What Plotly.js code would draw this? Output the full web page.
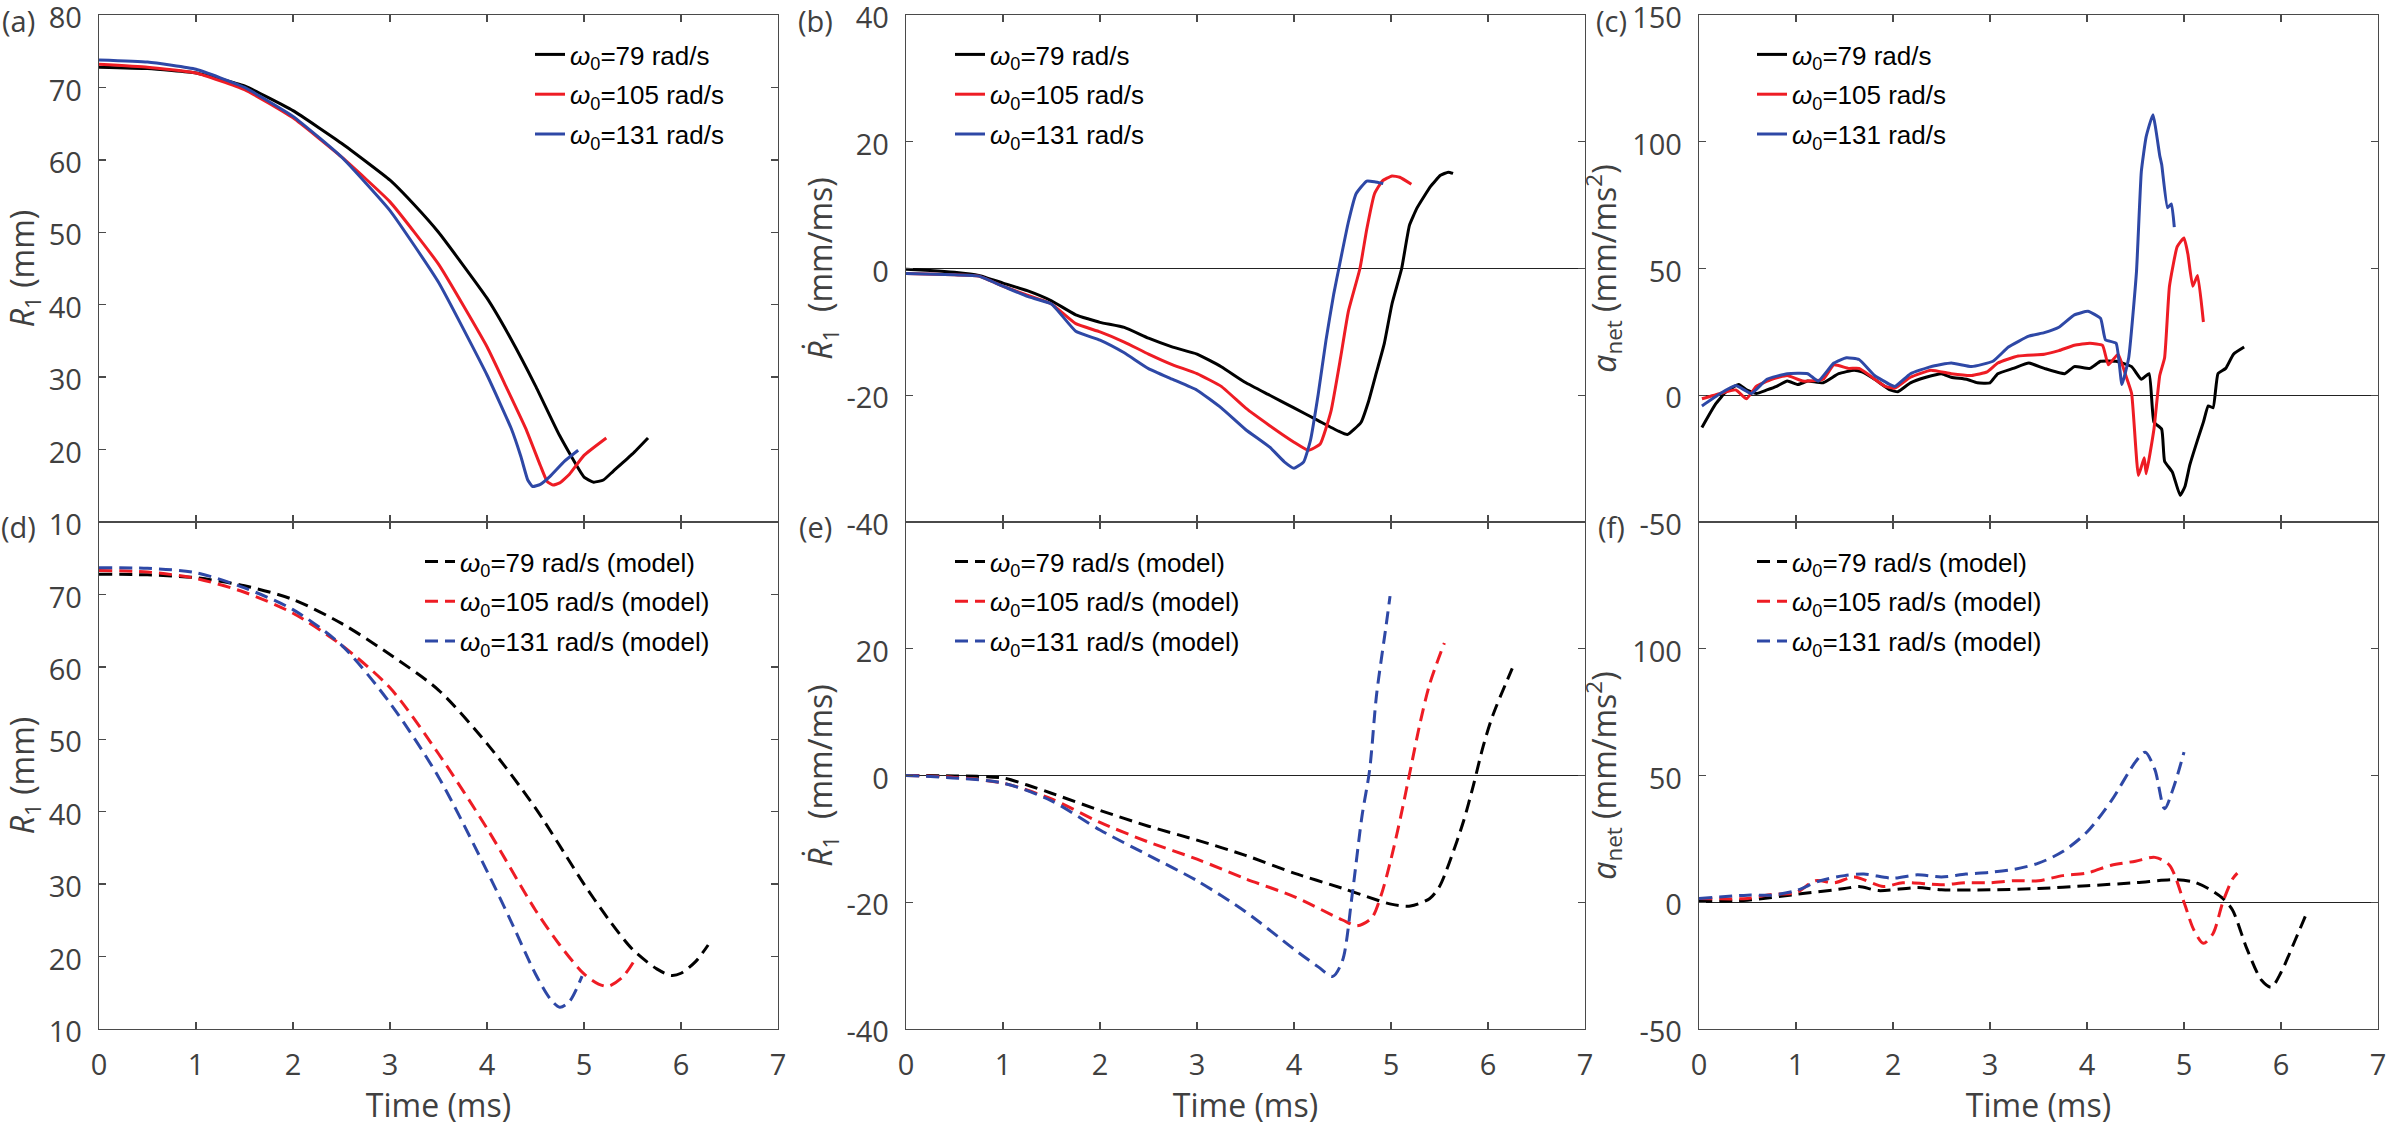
<!DOCTYPE html>
<html>
<head>
<meta charset="utf-8">
<script src="https://cdn.plot.ly/plotly-3.0.1.min.js"></script>
<style>html,body{margin:0;padding:0;background:#fff;}#chart{width:2388px;height:1132px;}</style>
</head>
<body>
<div id="chart"></div>
<script>
// ---------- DATA ----------
const omegaLabels = ['<i>ω</i><sub>0</sub>=79 rad/s', '<i>ω</i><sub>0</sub>=105 rad/s', '<i>ω</i><sub>0</sub>=131 rad/s'];
const modelSuffix = ' (model)';
const xTicks = [0, 1, 2, 3, 4, 5, 6, 7];
const xTickText = ['0', '1', '2', '3', '4', '5', '6', '7'];

// (a) experimental R1 (mm)
const tA79 = [0, 0.5, 1, 1.5, 2, 2.5, 3, 3.25, 3.5, 4, 4.25, 4.5, 4.75, 5, 5.1, 5.2, 5.3, 5.5, 5.66];
const rA79 = [72.8, 72.6, 72.0, 70.2, 66.8, 62.3, 57.2, 53.8, 50.0, 40.9, 35.2, 28.8, 21.9, 16.2, 15.5, 15.8, 17.0, 19.4, 21.6];
const tA105 = [0, 0.5, 1, 1.5, 2, 2.5, 3, 3.5, 4, 4.2, 4.4, 4.55, 4.62, 4.68, 4.75, 4.85, 5, 5.23];
const rA105 = [73.2, 72.8, 72.0, 69.7, 65.8, 60.4, 54.2, 45.6, 34.2, 28.6, 22.9, 17.8, 15.6, 15.1, 15.4, 16.6, 19.2, 21.6];
const tA131 = [0, 0.5, 1, 1.5, 2, 2.5, 3, 3.5, 4, 4.25, 4.35, 4.42, 4.47, 4.55, 4.65, 4.8, 4.94];
const rA131 = [73.8, 73.5, 72.5, 70.0, 66.0, 60.4, 53.0, 43.1, 30.3, 22.9, 19.0, 15.8, 14.9, 15.2, 16.3, 18.4, 19.9];

// (b) experimental dR1/dt (mm/ms)
const tB79 = [0, 0.25, 0.5, 0.75, 1, 1.25, 1.5, 1.75, 2, 2.25, 2.5, 2.75, 3, 3.25, 3.5, 3.75, 4, 4.25, 4.45, 4.55, 4.69, 4.77, 4.85, 4.93, 5.01, 5.11, 5.19, 5.27, 5.41, 5.51, 5.59, 5.64];
const vB79 = [-0.1, -0.3, -0.6, -1.1, -2.3, -3.5, -5.1, -7.3, -8.5, -9.3, -11.0, -12.4, -13.5, -15.5, -18.0, -20.0, -22.0, -24.0, -25.6, -26.2, -24.3, -20.9, -16.4, -11.9, -5.6, 0, 6.8, 9.6, 13.0, 14.7, 15.2, 15.0];
const tB105 = [0, 0.5, 0.75, 1, 1.25, 1.5, 1.75, 2, 2.25, 2.5, 2.75, 3, 3.25, 3.5, 3.75, 4, 4.15, 4.27, 4.38, 4.48, 4.56, 4.68, 4.75, 4.83, 4.91, 5.01, 5.09, 5.21];
const vB105 = [-0.8, -1.0, -1.2, -2.8, -4.2, -5.6, -8.7, -10.0, -11.6, -13.5, -15.2, -16.6, -18.6, -22.0, -24.8, -27.4, -28.7, -27.7, -22.6, -14.1, -6.8, 0, 6.2, 11.8, 13.8, 14.6, 14.4, 13.3];
const tB131 = [0, 0.5, 0.75, 1, 1.25, 1.5, 1.75, 2, 2.25, 2.5, 2.75, 3, 3.25, 3.5, 3.75, 3.9, 4.0, 4.1, 4.17, 4.25, 4.33, 4.41, 4.47, 4.56, 4.64, 4.75, 4.83, 4.92];
const vB131 = [-0.8, -1.0, -1.2, -2.8, -4.4, -5.6, -9.9, -11.3, -13.3, -15.8, -17.5, -19.2, -22.0, -25.4, -28.2, -30.5, -31.5, -30.5, -27.1, -19.8, -11.3, -4.0, 0.6, 7.3, 11.8, 13.8, 13.7, 13.4];

// (c) experimental a_net (mm/ms^2)
const tC79 = [0.03, 0.17, 0.28, 0.41, 0.49, 0.59, 0.70, 0.80, 0.91, 1.02, 1.12, 1.28, 1.44, 1.60, 1.68, 1.81, 1.97, 2.05, 2.18, 2.34, 2.50, 2.60, 2.76, 2.87, 3.00, 3.08, 3.24, 3.40, 3.56, 3.77, 3.87, 4.03, 4.14, 4.30, 4.46, 4.56, 4.64, 4.69, 4.77, 4.80, 4.88, 4.96, 5.01, 5.06, 5.14, 5.20, 5.25, 5.30, 5.35, 5.43, 5.51, 5.62];
const aC79 = [-12.7, -3.5, 1.4, 4.2, 2.1, 0.7, 2.1, 3.5, 5.6, 4.2, 5.6, 4.9, 8.5, 9.9, 9.2, 6.3, 2.1, 1.4, 4.9, 7.1, 8.5, 7.1, 6.3, 4.9, 4.9, 8.5, 10.6, 12.7, 10.6, 8.5, 11.3, 10.6, 13.4, 13.4, 11.3, 6.3, 8.5, -10.6, -13.4, -26.0, -30.3, -39.5, -36.0, -27.5, -17.6, -10.6, -4.2, -4.9, 8.5, 10.6, 16.2, 19.0];
const tC105 = [0.03, 0.22, 0.38, 0.49, 0.59, 0.75, 0.91, 1.07, 1.28, 1.39, 1.54, 1.65, 1.76, 1.92, 2.02, 2.18, 2.39, 2.60, 2.81, 2.97, 3.08, 3.29, 3.56, 3.71, 3.87, 4.03, 4.16, 4.22, 4.32, 4.40, 4.46, 4.53, 4.59, 4.61, 4.69, 4.75, 4.80, 4.85, 4.93, 5.00, 5.04, 5.09, 5.14, 5.20];
const aC105 = [-1.4, 0.7, 2.1, -1.4, 3.5, 6.3, 7.8, 5.6, 6.3, 12.0, 10.6, 10.6, 7.8, 3.5, 2.8, 7.1, 9.9, 8.5, 7.8, 9.2, 12.7, 15.5, 16.2, 17.6, 19.7, 20.5, 19.7, 12.0, 16.2, 7.8, 0.7, -31.7, -24.7, -31.0, -13.4, 7.8, 14.8, 43.0, 58.6, 62.0, 55.7, 43.0, 47.2, 28.9];
const tC131 = [0.03, 0.22, 0.38, 0.54, 0.70, 0.91, 1.12, 1.23, 1.39, 1.52, 1.65, 1.81, 1.97, 2.02, 2.18, 2.39, 2.60, 2.81, 3.03, 3.19, 3.40, 3.56, 3.71, 3.87, 4.01, 4.14, 4.19, 4.30, 4.36, 4.43, 4.51, 4.56, 4.61, 4.68, 4.75, 4.77, 4.83, 4.87, 4.90];
const aC131 = [-4.2, 0.7, 3.8, 0.7, 6.3, 8.5, 8.5, 5.6, 12.7, 14.8, 14.1, 7.8, 4.2, 3.5, 8.5, 11.3, 12.7, 11.3, 13.4, 19.0, 23.3, 24.7, 26.8, 31.7, 33.1, 30.3, 21.9, 20.5, 4.2, 14.8, 48.7, 88.2, 102.0, 110.7, 94.5, 91.0, 74.0, 75.5, 66.3];

// (d) model R1 (mm)
const tD79 = [0, 0.5, 1, 1.5, 2, 2.5, 3, 3.5, 4, 4.5, 5, 5.25, 5.5, 5.75, 5.9, 6.0, 6.15, 6.28];
const rD79 = [72.8, 72.7, 72.3, 71.2, 69.3, 66.0, 61.7, 56.8, 49.4, 40.5, 30.0, 25.2, 21.0, 18.3, 17.4, 17.7, 19.3, 21.6];
const tD105 = [0, 0.5, 1, 1.5, 2, 2.5, 3, 3.5, 4, 4.5, 4.75, 5, 5.15, 5.25, 5.4, 5.53];
const rD105 = [73.3, 73.1, 72.2, 70.3, 67.4, 63.0, 57.1, 48.0, 37.7, 26.4, 21.6, 17.6, 16.2, 15.9, 17.2, 19.7];
const tD131 = [0, 0.5, 1, 1.5, 2, 2.5, 3, 3.5, 4, 4.25, 4.5, 4.65, 4.75, 4.85, 4.98];
const rD131 = [73.7, 73.6, 73.0, 70.9, 67.9, 63.0, 55.0, 44.8, 31.8, 24.8, 17.6, 14.2, 13.0, 13.8, 17.3];

// (e) model dR1/dt (mm/ms)
const tE79 = [0, 0.5, 1, 1.25, 1.5, 2, 2.5, 3, 3.5, 4, 4.5, 4.75, 5, 5.2, 5.4, 5.5, 5.6, 5.75, 5.85, 5.95, 6.05, 6.25];
const vE79 = [0, -0.06, -0.4, -1.5, -2.8, -5.5, -8.0, -10.2, -12.6, -15.4, -17.8, -19.1, -20.3, -20.6, -19.4, -17.5, -13.8, -7.1, -1.5, 4.6, 9.5, 16.9];
const tE105 = [0, 0.5, 1, 1.5, 2, 2.5, 3, 3.5, 4, 4.5, 4.65, 4.8, 4.9, 5, 5.1, 5.2, 5.3, 5.4, 5.55];
const vE105 = [0, -0.3, -1.2, -3.7, -7.4, -10.5, -13.2, -16.3, -19.1, -22.8, -23.7, -22.5, -18.8, -13.2, -6.5, 0.9, 8.3, 14.5, 20.9];
const tE131 = [0, 1, 1.5, 2, 2.5, 3, 3.5, 4, 4.25, 4.4, 4.5, 4.6, 4.7, 4.78, 4.85, 4.95, 4.99];
const vE131 = [0, -1.2, -4.0, -8.6, -12.6, -16.6, -21.5, -27.4, -30.2, -31.7, -29.2, -18.8, -6.5, 0.9, 12.6, 23.7, 28.3];

// (f) model a_net (mm/ms^2)
const tF79 = [0, 0.5, 1, 1.5, 1.65, 1.85, 2.25, 2.5, 3, 3.5, 4, 4.5, 4.9, 5.1, 5.25, 5.4, 5.5, 5.65, 5.8, 5.9, 6.0, 6.15, 6.27];
const aF79 = [0.3, 0.8, 3.1, 5.4, 6.2, 4.6, 5.8, 4.9, 4.9, 5.4, 6.5, 7.7, 8.9, 8.0, 5.4, 1.5, -3.1, -18.5, -30.8, -33.5, -27.7, -14.6, -3.8];
const tF105 = [0, 0.5, 0.75, 1, 1.2, 1.4, 1.6, 1.9, 2.1, 2.5, 2.75, 3, 3.25, 3.5, 3.75, 4, 4.25, 4.5, 4.7, 4.85, 5.0, 5.1, 5.2, 5.3, 5.4, 5.5, 5.55];
const aF105 = [1.5, 1.5, 3.1, 3.8, 8.5, 7.7, 10.0, 6.2, 7.7, 6.9, 7.7, 7.7, 8.5, 8.5, 10.5, 11.5, 14.6, 16.2, 17.7, 14.6, 0, -10.8, -16.2, -12.3, 0, 9.2, 11.5];
const tF131 = [0, 0.5, 0.75, 1, 1.25, 1.5, 1.7, 2, 2.25, 2.5, 2.75, 3, 3.25, 3.5, 3.75, 4, 4.25, 4.5, 4.6, 4.7, 4.8, 4.9, 5.0];
const aF131 = [1.5, 2.8, 2.8, 4.6, 8.5, 10.5, 11.1, 9.5, 10.8, 10.0, 11.1, 11.8, 13.0, 15.4, 20.0, 27.7, 40.0, 55.4, 59.2, 52.3, 36.9, 46.2, 59.2];

// axis tick values and labels (hyphen minus as in the reference)
const yRanges = [[10, 80], [-40, 40], [-50, 150]];
const yTickTop = [[10, 20, 30, 40, 50, 60, 70, 80], [-40, -20, 0, 20, 40], [-50, 0, 50, 100, 150]];
const yTickBot = [[10, 20, 30, 40, 50, 60, 70], [-40, -20, 0, 20], [-50, 0, 50, 100]];
const yTitles = ['<i>R</i><sub>1</sub> (mm)', '<i>Ṙ</i><sub>1</sub>  (mm/ms)', '<i>a</i><sub>net</sub> (mm/ms<sup>2</sup>)'];

// ---------- STYLE ----------
const colors = ['#000000', '#ee1c24', '#2e48a6'];
const gray = '#404040';
const axisColor = '#4a4a4a';
const W = 2388, H = 1132;

const panels = [
  {xs: [tA79, tA105, tA131], ys: [rA79, rA105, rA131], model: false},
  {xs: [tB79, tB105, tB131], ys: [vB79, vB105, vB131], model: false},
  {xs: [tC79, tC105, tC131], ys: [aC79, aC105, aC131], model: false},
  {xs: [tD79, tD105, tD131], ys: [rD79, rD105, rD131], model: true},
  {xs: [tE79, tE105, tE131], ys: [vE79, vE105, vE131], model: true},
  {xs: [tF79, tF105, tF131], ys: [aF79, aF105, aF131], model: true}
];

const traces = [];
panels.forEach((p, i) => {
  const k = i + 1;
  for (let j = 0; j < 3; j++) {
    traces.push({
      type: 'scatter', mode: 'lines',
      x: p.xs[j], y: p.ys[j],
      xaxis: 'x' + (k === 1 ? '' : k), yaxis: 'y' + (k === 1 ? '' : k),
      name: omegaLabels[j] + (p.model ? modelSuffix : ''),
      legend: k === 1 ? 'legend' : 'legend' + k,
      legendgroup: 'g' + k + '_' + j,
      line: {color: colors[j], width: 3, dash: p.model ? '13px,7px' : 'solid', shape: 'spline', smoothing: p.model ? 0.8 : 0.4},
      showlegend: true
    });
  }
});

const xd = [[99 / W, 778 / W], [906 / W, 1585 / W], [1699 / W, 2378 / W]];
const ydTop = [1 - 522 / H, 1 - 15 / H];
const ydBot = [1 - 1029 / H, 1 - 522 / H];

const tickFont = {family: 'Open Sans, sans-serif', size: 29, color: gray};
const titleFont = {family: 'Open Sans, sans-serif', size: 32, color: gray};

function fmt(v) { return String(v).replace('\u2212', '-'); }

function xAxis(col, bottom, anchor) {
  return {
    domain: xd[col], anchor: anchor, range: [0, 7], tickmode: 'array', tickvals: xTicks, ticktext: xTickText,
    showticklabels: bottom, ticks: 'inside', ticklen: 7, tickwidth: 1.3, tickcolor: axisColor,
    showline: true, linecolor: axisColor, linewidth: 1.3, mirror: 'ticks',
    showgrid: false, zeroline: false, tickfont: tickFont, ticklabelstandoff: 10, ticklabeloverflow: 'allow',
    title: bottom ? {text: 'Time (ms)', font: titleFont, standoff: 8} : {text: ''}
  };
}
const yStandoff = [14, 4, 6];
function yAxis(col, bottom, anchor) {
  const tv = bottom ? yTickBot[col] : yTickTop[col];
  return {
    domain: bottom ? ydBot : ydTop, anchor: anchor, range: yRanges[col],
    tickmode: 'array', tickvals: tv, ticktext: tv.map(fmt),
    ticks: 'inside', ticklen: 7, tickwidth: 1.3, tickcolor: axisColor,
    showline: true, linecolor: axisColor, linewidth: 1.3, mirror: 'ticks',
    showgrid: false, zeroline: col !== 0, zerolinecolor: '#222222', zerolinewidth: 1.2,
    tickfont: tickFont, ticklabelstandoff: 10, ticklabelshift: 3, ticklabeloverflow: 'allow',
    title: {text: yTitles[col], font: titleFont, standoff: yStandoff[col]}
  };
}

const legendFont = {family: 'Liberation Sans Narrow, Liberation Sans, Arial, sans-serif', size: 26, color: '#000'};
function legendAt(xpx, ytop) {
  return {x: xpx / W, y: 1 - ytop / H, xanchor: 'left', yanchor: 'top', bgcolor: 'rgba(0,0,0,0)',
          borderwidth: 0, font: legendFont, traceorder: 'grouped', tracegroupgap: 3, itemclick: false};
}

const labelFont = {family: 'Open Sans, sans-serif', size: 29, color: gray};
const panelLabels = [['(a)', 18, 20], ['(b)', 815, 20], ['(c)', 1611, 20], ['(d)', 18, 526], ['(e)', 815, 526], ['(f)', 1611, 526]];

const layout = {
  width: W, height: H, margin: {l: 0, r: 0, t: 0, b: 0},
  paper_bgcolor: '#ffffff', plot_bgcolor: '#ffffff',
  xaxis: xAxis(0, false, 'y'), yaxis: yAxis(0, false, 'x'),
  xaxis2: xAxis(1, false, 'y2'), yaxis2: yAxis(1, false, 'x2'),
  xaxis3: xAxis(2, false, 'y3'), yaxis3: yAxis(2, false, 'x3'),
  xaxis4: xAxis(0, true, 'y4'), yaxis4: yAxis(0, true, 'x4'),
  xaxis5: xAxis(1, true, 'y5'), yaxis5: yAxis(1, true, 'x5'),
  xaxis6: xAxis(2, true, 'y6'), yaxis6: yAxis(2, true, 'x6'),
  legend: legendAt(530, 31), legend2: legendAt(950, 31), legend3: legendAt(1752, 31),
  legend4: legendAt(420, 538), legend5: legendAt(950, 538), legend6: legendAt(1752, 538),
  annotations: panelLabels.map(l => ({text: l[0], xref: 'paper', yref: 'paper', x: l[1] / W, y: 1 - l[2] / H,
    xanchor: 'center', yanchor: 'middle', showarrow: false, font: labelFont}))
};

Plotly.newPlot('chart', traces, layout, {displayModeBar: false, staticPlot: true});
</script>
</body>
</html>
